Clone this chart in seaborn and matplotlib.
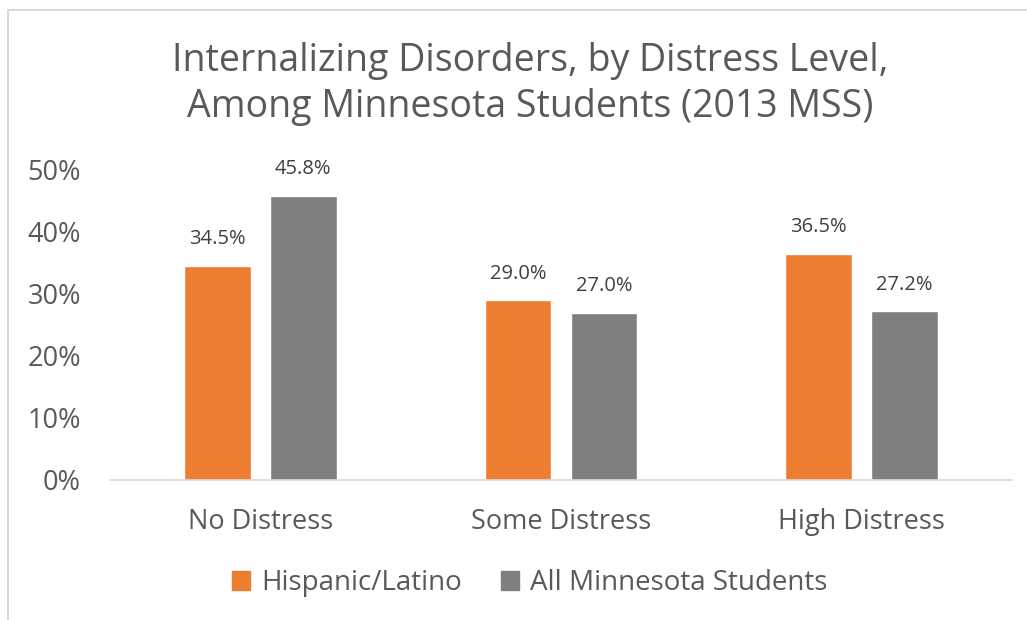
import matplotlib
matplotlib.use("Agg")
import matplotlib.pyplot as plt
import seaborn as sns
import pandas as pd
from matplotlib.patches import Rectangle

categories = ["No Distress", "Some Distress", "High Distress"]
series_names = ["Hispanic/Latino", "All Minnesota Students"]
hispanic = [0.345, 0.290, 0.365]
all_mn = [0.458, 0.270, 0.272]
yticks = [0, 0.1, 0.2, 0.3, 0.4, 0.5]
ytick_labels = ["0%", "10%", "20%", "30%", "40%", "50%"]
colors = ["#ED7D31", "#7F7F7F"]

df = pd.DataFrame({
    "cat": categories * 2,
    "series": [series_names[0]] * 3 + [series_names[1]] * 3,
    "value": hispanic + all_mn,
})

sns.set_theme(style="white")
plt.rcParams["font.family"] = ["Open Sans", "DejaVu Sans"]

fig = plt.figure(figsize=(10.27, 6.2), dpi=100)
ax = fig.add_axes([110 / 1027, 1 - 480 / 620, 902 / 1027, 310 / 620])

sns.barplot(data=df, x="cat", y="value", hue="series", palette=colors,
            order=categories, hue_order=series_names, width=0.572, gap=0.222,
            ax=ax, legend=False, saturation=1)

ax.set_ylim(0, 0.5)
ax.set_xlim(-0.5, 2.5)
ax.set_yticks(yticks)
ax.set_yticklabels(ytick_labels, fontsize=19.5, color="#595959")
ax.tick_params(axis="y", length=0, pad=21)
ax.tick_params(axis="x", length=0, pad=20, labelsize=19.5, labelcolor="#595959")
ax.set_xlabel("")
ax.set_ylabel("")
for s in ["top", "right", "left"]:
    ax.spines[s].set_visible(False)
ax.spines["bottom"].set_color("#D9D9D9")
ax.spines["bottom"].set_linewidth(1.2)

for cont in ax.containers:
    ax.bar_label(cont, labels=[f"{v*100:.1f}%" for v in cont.datavalues],
                 padding=12, fontsize=14.5, color="#404040")

fig.text(530 / 1027, 1 - 84 / 620,
         "Internalizing Disorders, by Distress Level,\nAmong Minnesota Students (2013 MSS)",
         ha="center", va="center", fontsize=27, color="#595959", linespacing=1.3)

# legend
handles = [Rectangle((0, 0), 1, 1, color=c) for c in colors]
fig.legend(handles, series_names, loc="center", bbox_to_anchor=(530 / 1027, 1 - 583 / 620),
           ncol=2, frameon=False, fontsize=20, labelcolor="#595959",
           handlelength=0.65, handleheight=0.65, handletextpad=0.4, columnspacing=1.4)

# border
fig.add_artist(plt.Line2D([8 / 1027, 8 / 1027], [0, 1 - 10 / 620], transform=fig.transFigure,
                          color="#D9D9D9", lw=1.5))
fig.add_artist(plt.Line2D([8 / 1027, 1], [1 - 10 / 620, 1 - 10 / 620], transform=fig.transFigure,
                          color="#D9D9D9", lw=1.5))

fig.savefig("out.png", dpi=100)
